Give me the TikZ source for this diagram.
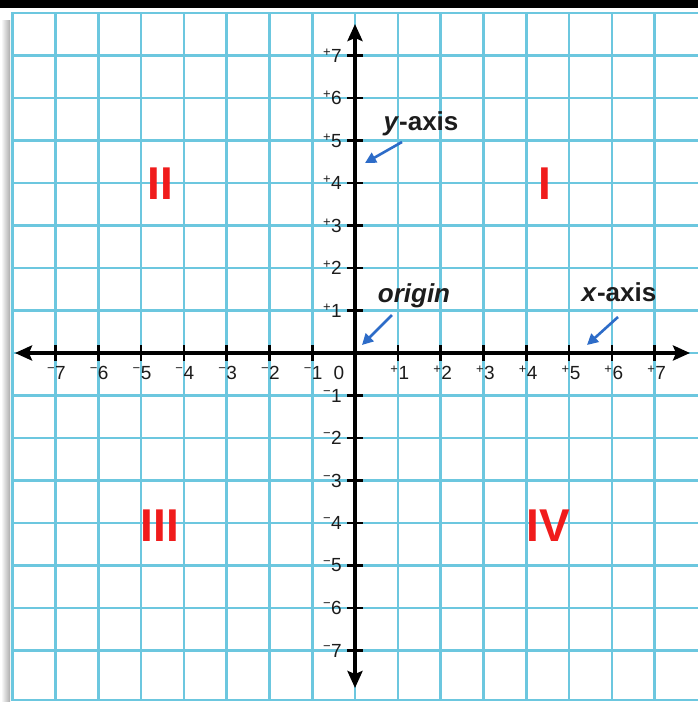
\documentclass[tikz,border=0pt]{standalone}
\usepackage{fontspec}
\setmainfont{Liberation Sans}
\usetikzlibrary{arrows.meta}
\definecolor{gridc}{RGB}{108,199,223}
\definecolor{quadred}{RGB}{240,28,28}
\definecolor{arrblue}{RGB}{45,108,200}
\definecolor{txtc}{RGB}{28,28,28}
\newcommand\plusup{\raisebox{0.33em}{\fontsize{13}{13}\selectfont+}\kern0.5pt}
\newcommand\minusup{\raisebox{0.36em}{\fontsize{13}{13}\selectfont\char"2212}\kern0.5pt}
\begin{document}
\begin{tikzpicture}[x=1pt,y=-1pt,
  gridline/.style={draw=gridc,line width=2.6pt},
  axisline/.style={draw=black,line width=3.5pt,{Stealth[length=17pt,width=15pt,inset=3pt]}-{Stealth[length=17pt,width=15pt,inset=3pt]}},
  tickmark/.style={draw=black,line width=2.6pt},
  ticklab/.style={inner sep=0pt,text=txtc,font=\fontsize{19}{19}\selectfont},
  quadlab/.style={inner sep=0pt,text=quadred,font=\fontsize{46}{46}\selectfont\bfseries},
  axlab/.style={inner sep=0pt,text=txtc,font=\fontsize{26}{26}\selectfont\bfseries},
  blarrow/.style={draw=arrblue,line width=2.6pt,-{Triangle[length=11pt,width=11pt]}}
]
\useasboundingbox (0,0) rectangle (698,702);
\fill[white] (0,0) rectangle (698,702);
\fill[black] (0,0) rectangle (698,8);
\shade[left color=white,right color=gray!65] (1,20) rectangle (10,702);
% grid
\begin{scope}
\clip (0,8) rectangle (698,702);
\foreach \i in {-8,...,7} \draw[gridline] ({355+42.8*\i},13) -- ({355+42.8*\i},700);
\foreach \j in {-7,...,8} \draw[gridline] (11.3,{353-42.5*\j}) -- (698,{353-42.5*\j});
\draw[gridline] (11.3,700) -- (698,700);
\end{scope}
% axes
\coordinate (xl) at (15,353);
\coordinate (xr) at (690,353);
\coordinate (yt) at (355,24);
\coordinate (yb) at (355,688);
\draw[axisline] (xl) -- (xr);
\draw[axisline] (yb) -- (yt);
% ticks and labels
\foreach \i in {1,...,7} {
  \draw[tickmark] ({355+42.8*\i},345) -- ++(0,16);
  \draw[tickmark] ({355-42.8*\i},345) -- ++(0,16);
  \draw[tickmark] (347,{353-42.5*\i}) -- ++(16,0);
  \draw[tickmark] (347,{353+42.5*\i}) -- ++(16,0);
  \node[ticklab,anchor=north] (xp\i) at ({355+42.8*\i+2},366) {\plusup\i};
  \node[ticklab,anchor=north] (xm\i) at ({355-42.8*\i+1},366) {\minusup\i};
  \node[ticklab,anchor=east] (yp\i) at (342,{353-42.5*\i}) {\plusup\i};
  \node[ticklab,anchor=east] (ym\i) at (342,{353+42.5*\i}) {\minusup\i};
}
\node[ticklab] (zero) at (339,373) {0};
% quadrant numerals
\node[quadlab] (q1) at (545,184) {I};
\node[quadlab] (q2) at (160,184) {II};
\node[quadlab] (q3) at (160,526) {III};
\node[quadlab] (q4) at (548,526) {IV};
% axis labels and arrows
\node[axlab,anchor=base] (ylab) at (421,130) {\textit{y}-axis};
\node[axlab,anchor=base] (olab) at (414,302) {\textit{origin}};
\node[axlab,anchor=base] (xlab) at (619,301) {\textit{x}-axis};
\coordinate (ya1) at (402,142);
\coordinate (ya2) at (365,163);
\coordinate (oa1) at (392,315);
\coordinate (oa2) at (362,345);
\coordinate (xa1) at (618,317);
\coordinate (xa2) at (587,345);
\draw[blarrow] (ya1) -- (ya2);
\draw[blarrow] (oa1) -- (oa2);
\draw[blarrow] (xa1) -- (xa2);
\end{tikzpicture}
\end{document}
